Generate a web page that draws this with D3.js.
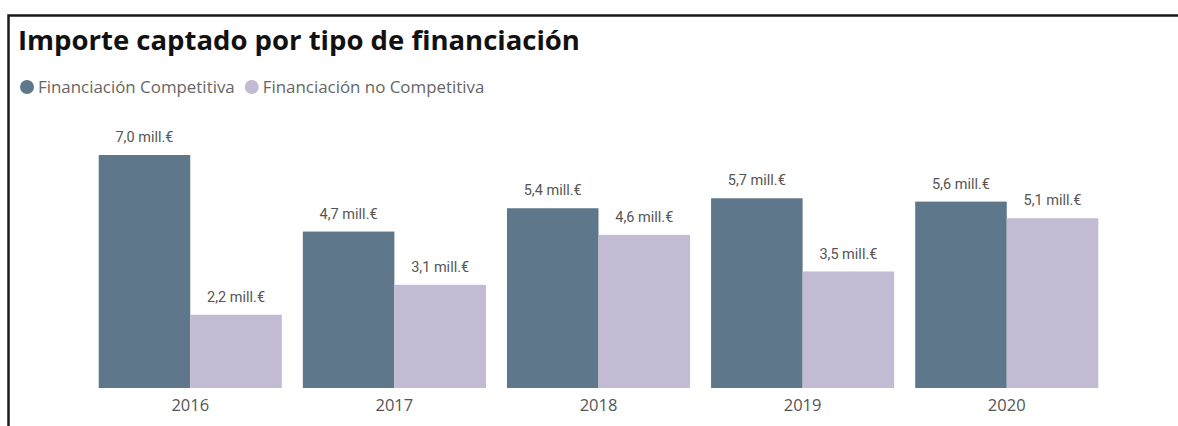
<!DOCTYPE html>
<html><head><meta charset="utf-8">
<script src="https://cdn.jsdelivr.net/npm/d3@7"></script>
<style>html,body{margin:0;padding:0;background:#fff;overflow:hidden}</style>
</head><body>
<svg id="chart" width="1178" height="426"></svg>
<script>
const categories = ["2016","2017","2018","2019","2020"];
const seriesNames = ["Financiación Competitiva","Financiación no Competitiva"];
const competitiva = [7.0, 4.7, 5.4, 5.7, 5.6];
const noCompetitiva = [2.2, 3.1, 4.6, 3.5, 5.1];
const colors = ["#5f778a", "#c3bad3"];

const svg = d3.select("#chart");
// frame
svg.append("path").attr("d","M8.5,426 V15.5 H1178").attr("fill","none").attr("stroke","#1a1a1a").attr("stroke-width",2.5);

svg.append("text").attr("x",18).attr("y",50)
  .attr("font-family","'Open Sans', 'DejaVu Sans', sans-serif").attr("font-weight",700)
  .attr("font-size",27.5).attr("fill","#111").text("Importe captado por tipo de financiación");

// legend
let lx = 27;
seriesNames.forEach((n,i)=>{
  svg.append("circle").attr("cx",lx).attr("cy",87).attr("r",7).attr("fill",colors[i]);
  const t = svg.append("text").attr("x",lx+11).attr("y",93)
    .attr("font-family","'Open Sans', sans-serif").attr("font-size",16.9).attr("fill","#666").text(n);
  lx += 11 + t.node().getComputedTextLength() + 17;
});

const x0 = d3.scaleBand().domain(categories).range([88.5,1108.5]).paddingInner(0.103).paddingOuter(0.05);
const x1 = d3.scaleBand().domain([0,1]).range([0,x0.bandwidth()]);
const y = d3.scaleLinear().domain([0,7]).range([388,155]);

const data = categories.map((c,i)=>({c, v:[competitiva[i], noCompetitiva[i]]}));
const g = svg.append("g");
data.forEach(d=>{
  d.v.forEach((v,j)=>{
    g.append("rect").attr("x",x0(d.c)+x1(j)).attr("y",y(v))
      .attr("width",x1.bandwidth()).attr("height",y(0)-y(v)).attr("fill",colors[j]);
    g.append("text").attr("x",x0(d.c)+x1(j)+x1.bandwidth()/2).attr("y",y(v)-13)
      .attr("text-anchor","middle").attr("font-family","Roboto, 'Open Sans', sans-serif")
      .attr("font-size",14.5).attr("fill","#555")
      .text(d3.format(".1f")(v).replace(".",",")+" mill.€");
  });
});

const xAxis = svg.append("g").attr("transform","translate(0,388)")
  .call(d3.axisBottom(x0).tickSize(0).tickPadding(11));
xAxis.select(".domain").remove();
xAxis.selectAll("text").attr("font-family","'Open Sans', sans-serif").attr("font-size",16.5).attr("fill","#555");
</script>
</body></html>
